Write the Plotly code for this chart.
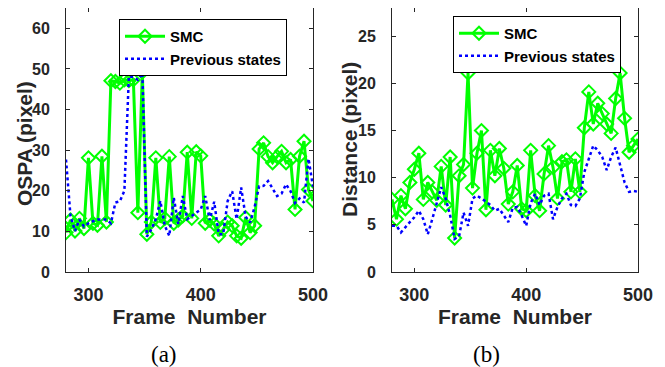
import plotly.graph_objects as go

frames = list(range(280, 501, 4))

ospa_smc = [9.7, 12.8, 10.1, 13.2, 10.7, 28.1, 12.0, 11.5, 28.5, 12.3,
            47.1, 46.9, 46.5, 47.3, 47.1, 47.3, 14.6, 49.2, 9.3, 12.3,
            28.1, 12.2, 13.2, 28.4, 12.0, 12.8, 13.8, 29.5, 13.2, 29.6,
            28.6, 12.0, 12.8, 11.8, 8.9, 10.5, 12.3, 11.4, 8.9, 8.3,
            13.4, 9.7, 11.4, 30.3, 31.8, 28.4, 26.9, 28.4, 29.7, 26.9,
            27.7, 15.4, 28.5, 32.2, 20.3, 17.5]
ospa_prev = [27.7, 13.8, 10.1, 12.9, 11.2, 12.0, 12.5, 12.9, 12.9, 12.9,
             12.0, 17.1, 17.4, 20.0, 48.2, 48.0, 47.3, 49.0, 8.7, 10.5,
             13.0, 17.5, 11.4, 8.9, 18.3, 11.8, 18.7, 13.0, 13.8, 14.6,
             15.4, 18.7, 12.8, 17.3, 9.3, 9.3, 17.5, 19.9, 13.0, 20.8,
             13.6, 12.2, 16.0, 21.1, 21.2, 22.4, 20.5, 18.7, 19.3, 21.6,
             19.9, 17.0, 18.1, 17.1, 27.9, 21.0]
dist_smc = [7.7, 5.6, 8.1, 6.7, 9.5, 10.9, 12.6, 7.7, 9.5, 8.5,
            7.6, 11.2, 7.1, 12.2, 3.6, 10.2, 11.4, 21.1, 8.9, 12.6,
            15.0, 6.6, 12.9, 10.2, 13.1, 11.0, 7.2, 8.5, 11.3, 6.7,
            6.5, 12.9, 8.1, 6.5, 10.4, 13.4, 11.1, 7.8, 11.7, 11.9,
            8.5, 12.0, 8.5, 15.3, 19.1, 15.7, 17.9, 16.8, 15.7, 14.7,
            18.4, 21.1, 16.3, 12.7, 13.4, 14.1]
dist_prev = [4.9, 4.9, 4.2, 4.8, 5.3, 5.8, 6.5, 5.6, 4.0, 5.6,
             7.4, 9.0, 7.8, 6.0, 3.5, 3.8, 6.3, 4.9, 7.8, 8.1,
             7.8, 7.4, 7.1, 6.5, 6.7, 6.0, 5.3, 6.8, 6.9, 6.0,
             4.9, 7.3, 8.3, 7.1, 8.1, 8.3, 5.6, 6.9, 7.8, 8.3,
             7.1, 7.0, 7.8, 10.6, 12.0, 13.4, 12.9, 12.2, 10.8, 12.2,
             13.2, 11.3, 9.5, 8.5, 8.6, 8.5]

x_ticks = [300, 400, 500]
ospa_ticks = [0, 10, 20, 30, 40, 50, 60]
dist_ticks = [0, 5, 10, 15, 20, 25]

GREEN = "#00FF00"
BLUE = "#0000FF"
FONT = "Liberation Sans"
AXC = "#262626"

fig = go.Figure()

def add_pair(smc, prev, xa, ya, legend):
    fig.add_trace(go.Scatter(
        x=frames, y=smc, mode="lines+markers", name="<b>SMC</b>",
        line=dict(color=GREEN, width=3),
        marker=dict(symbol="diamond-open", size=10, color=GREEN, line=dict(width=2, color=GREEN)),
        xaxis=xa, yaxis=ya, legend=legend))
    fig.add_trace(go.Scatter(
        x=frames, y=prev, mode="lines", name="<b>Previous states</b>",
        line=dict(color=BLUE, width=2.5, dash="dot"),
        xaxis=xa, yaxis=ya, legend=legend))

add_pair(ospa_smc, ospa_prev, "x", "y", "legend")
add_pair(dist_smc, dist_prev, "x2", "y2", "legend2")

# page body has an 8px margin; work in screen pixels and convert
OFF = 8
W, H = 665 - OFF, 367 - OFF

def px(s):
    return (s - OFF) / W

def py(s):
    return 1 - (s - OFF) / H

yd = [py(272), py(8)]

axis_common = dict(
    showline=True, linecolor=AXC, linewidth=1, mirror="ticks",
    ticks="inside", ticklen=4, tickcolor=AXC,
    showgrid=False, zeroline=False, automargin=False,
)
xtick_font = dict(family=FONT, size=18, color=AXC)
ytick_font = dict(family=FONT, size=16, color=AXC)
title_font = dict(family=FONT, size=21, color=AXC)

def bold(vals):
    return [f"<b>{v}</b>" for v in vals]

def ann(text, x, y, font, angle=0):
    return dict(text=text, x=px(x), y=py(y), xref="paper", yref="paper",
                xanchor="center", yanchor="middle", showarrow=False,
                textangle=angle, font=font)

caption_font = dict(family="Liberation Serif", size=23, color="black")

fig.update_layout(
    width=W, height=H,
    margin=dict(l=0, r=0, t=0, b=0, autoexpand=False),
    paper_bgcolor="white", plot_bgcolor="white",
    showlegend=True,
    xaxis=dict(domain=[px(66), px(313)], range=[280, 500], tickvals=x_ticks,
               ticktext=bold(x_ticks), anchor="y", ticklabelstandoff=6,
               tickfont=xtick_font,
               title=dict(text="<b>Frame  Number</b>", font=title_font, standoff=4),
               **axis_common),
    yaxis=dict(domain=yd, range=[0, 65], tickvals=ospa_ticks,
               ticktext=bold(ospa_ticks), anchor="x", ticklabelstandoff=12,
               tickfont=ytick_font, **axis_common),
    xaxis2=dict(domain=[px(392), px(638)], range=[280, 500], tickvals=x_ticks,
                ticktext=bold(x_ticks), anchor="y2", ticklabelstandoff=6,
                tickfont=xtick_font,
                title=dict(text="<b>Frame  Number</b>", font=title_font, standoff=4),
                **axis_common),
    yaxis2=dict(domain=yd, range=[0, 28], tickvals=dist_ticks,
                ticktext=bold(dist_ticks), anchor="x2", ticklabelstandoff=12,
                tickfont=ytick_font, **axis_common),
    legend=dict(x=px(119), y=py(19), xanchor="left", yanchor="top",
                bgcolor="white", bordercolor="black", borderwidth=1,
                font=dict(family=FONT, size=15, color="black"),
                tracegroupgap=0, itemwidth=40),
    legend2=dict(x=px(453), y=py(16), xanchor="left", yanchor="top",
                 bgcolor="white", bordercolor="black", borderwidth=1,
                 font=dict(family=FONT, size=15, color="black"),
                 tracegroupgap=0, itemwidth=40),
    annotations=[
        ann("<b>OSPA (pixel)</b>", 24, 144, title_font, -90),
        ann("<b>Distance (pixel)</b>", 349, 140, title_font, -90),
        ann("(a)", 164, 354, caption_font),
        ann("(b)", 486, 354, caption_font),
    ],
)

fig.write_html("out.html")
